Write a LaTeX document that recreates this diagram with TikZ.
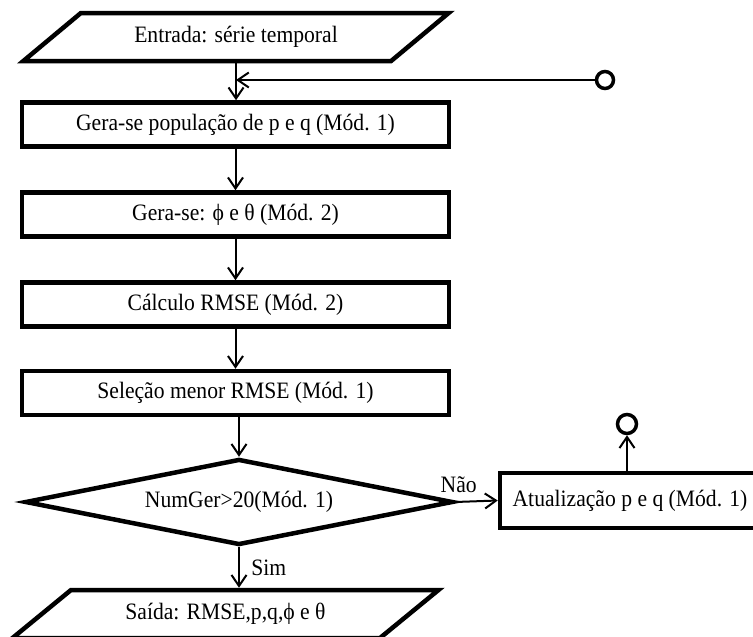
\documentclass[tikz,border=0pt]{standalone}
\usepackage{fontspec}
\setmainfont{Liberation Serif}[FakeStretch=0.92]
\usetikzlibrary{shapes.geometric,arrows.meta,positioning}

\begin{document}
\begin{tikzpicture}[x=1pt, y=-1pt, semithick,
    >={Straight Barb[length=11pt,width=15pt]},
    font=\fontsize{23.5}{27}\selectfont,
    box/.style={draw, line width=4.5pt, minimum width=427pt, minimum height=44pt, inner sep=0pt},
    io/.style={draw, line width=4.5pt, trapezium, trapezium left angle=29.5, trapezium right angle=150.5,
      trapezium stretches=true, minimum width=427pt, minimum height=48pt, inner sep=0pt},
    test/.style={draw, line width=4.5pt, diamond, aspect=5, minimum width=428pt, minimum height=86pt, inner sep=0pt},
    conn/.style={line width=2pt, ->},
    ring/.style={draw, circle, line width=3.5pt, minimum size=17pt, inner sep=0pt}]
  \useasboundingbox (0,0) rectangle (753,637);
  \clip (0,0) rectangle (753,637);
  % main column
  \node[io]   (inp) at (236,37)      {Entrada: série temporal};
  \node[box]  (pop) at (235.5,124.5) {Gera-se população de p e q (Mód. 1)};
  \node[box]  (gen) at (235.5,214.5) {Gera-se: ϕ e θ (Mód. 2)};
  \node[box]  (rms) at (235.5,304.5) {Cálculo RMSE (Mód. 2)};
  \node[box]  (sel) at (235.5,393)   {Seleção menor RMSE (Mód. 1)};
  \node[test] (dec) at (239,502)     {NumGer>20(Mód. 1)};
  \node[io]   (out) at (225.5,614)   {Saída: RMSE,p,q,ϕ e θ};
  % update branch (runs off the right edge)
  \node[box, minimum width=300pt, minimum height=55pt] (upd) at (650,500.5)
    {Atualização p e q (Mód. 1)\hspace*{40pt}};
  \node[ring] (c1) at (605,80) {};
  \node[ring, minimum height=19pt] (c2) at (627,424) {};
  % connectors
  \draw[conn] (inp.south) -- (inp.south |- pop.north);
  \draw[conn] (c1) -- (c1 -| inp.south);
  \draw[conn] (pop.south) -- (pop.south |- gen.north);
  \draw[conn] (gen.south) -- (gen.south |- rms.north);
  \draw[conn] (rms.south) -- (rms.south |- sel.north);
  \draw[conn] (sel.south -| dec.north) -- (dec.north);
  \draw[conn] (dec.east) -- node[pos=0.08, above=5pt] {Não} (upd.west);
  \draw[conn] (dec.south) -- node[midway, right=8pt] {Sim} (dec.south |- out.north);
  \draw[conn] (upd.north -| c2) -- (c2);
\end{tikzpicture}
\end{document}
